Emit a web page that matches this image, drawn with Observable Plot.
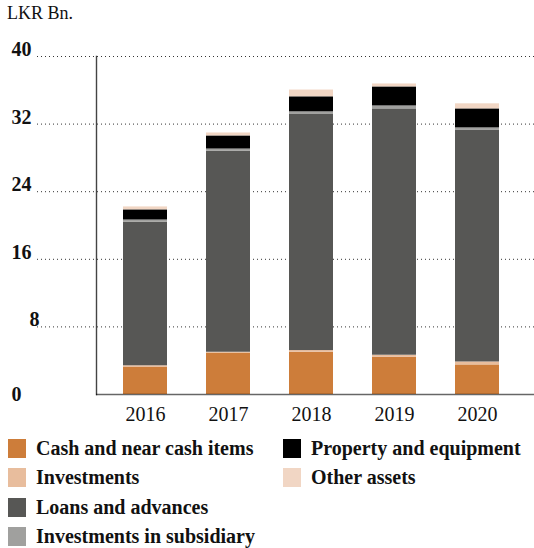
<!DOCTYPE html>
<html>
<head>
<meta charset="utf-8">
<script src="https://cdn.jsdelivr.net/npm/d3@7"></script>
<script src="https://cdn.jsdelivr.net/npm/@observablehq/plot@0.6"></script>
<style>
  html, body { margin: 0; padding: 0; background: #fff; }
  body { width: 534px; height: 548px; position: relative; overflow: hidden; font-family: "Liberation Serif", serif; color: #111; }
  #unit { position: absolute; left: 7px; top: 3px; font-size: 18px; }
  #chart { position: absolute; left: 0; top: 0; }
  #legend { position: absolute; left: 8px; top: 439px; display: grid; grid-auto-flow: column; grid-template-rows: repeat(4, 29.4px); grid-template-columns: 275px auto; }
  .item { display: flex; align-items: center; height: 19px; font-weight: bold; font-size: 20px; white-space: nowrap; }
  .sw { width: 18px; height: 19px; margin-right: 10px; flex: none; }
</style>
</head>
<body>
<div id="unit">LKR Bn.</div>
<div id="chart"></div>
<div id="legend"></div>
<script>
const years = ["2016", "2017", "2018", "2019", "2020"];
const seriesNames = ["Cash and near cash items", "Investments", "Loans and advances", "Investments in subsidiary", "Property and equipment", "Other assets"];
const colors = ["#CD7D3A", "#E8BD9D", "#575755", "#A0A09E", "#000000", "#F1D6C4"];
const cash = [3.2, 4.9, 5.0, 4.4, 3.5];
const investments = [0.2, 0.1, 0.2, 0.25, 0.35];
const loans = [17.0, 23.8, 28.0, 29.15, 27.45];
const subsidiary = [0.25, 0.25, 0.25, 0.35, 0.25];
const property = [1.2, 1.55, 1.78, 2.25, 2.25];
const other = [0.35, 0.35, 0.8, 0.35, 0.6];
const yTicks = [8, 16, 24, 32, 40];

const seriesValues = [cash, investments, loans, subsidiary, property, other];
const data = [];
seriesNames.forEach((s, i) => years.forEach((y, j) => data.push({year: y, series: s, value: seriesValues[i][j]})));

const font = "'Liberation Serif', serif";
const plot = Plot.plot({
  width: 534,
  height: 430,
  marginTop: 56,
  marginBottom: 36,
  marginLeft: 96,
  marginRight: 0,
  style: {fontFamily: font, color: "#111", background: "transparent", overflow: "visible"},
  x: {type: "band", domain: years, range: [121, 500], paddingInner: 0.4746, paddingOuter: 0},
  y: {domain: [0, 40]},
  color: {domain: seriesNames, range: colors},
  marks: [
    Plot.ruleY(yTicks, {stroke: "#333", strokeWidth: 1, strokeDasharray: "1,3", insetLeft: -59}),
    Plot.barY(data, {x: "year", y: "value", fill: "series", order: seriesNames}),
    Plot.frame({anchor: "left", stroke: "#444", strokeWidth: 1.4}),
    Plot.ruleY([0], {stroke: "#000", strokeOpacity: 0.6, strokeWidth: 1.3}),
    Plot.axisX({tickSize: 0, tickPadding: 12, fontSize: 20, label: null, fill: "#111"}),
    Plot.axisY(yTicks.filter(t => t >= 16), {tickSize: 0, tickPadding: 65, fontSize: 20, fontWeight: "bold", dy: -7, label: null, fill: "#111"}),
    Plot.axisY([8], {tickSize: 0, tickPadding: 57, fontSize: 20, fontWeight: "bold", dy: -7, label: null, fill: "#111"}),
    Plot.axisY([0], {tickSize: 0, tickPadding: 75, fontSize: 20, fontWeight: "bold", label: null, fill: "#111"})
  ]
});
document.getElementById("chart").appendChild(plot);

const legend = document.getElementById("legend");
seriesNames.forEach((s, i) => {
  const it = document.createElement("div");
  it.className = "item";
  const sw = document.createElement("span");
  sw.className = "sw";
  sw.style.background = colors[i];
  it.appendChild(sw);
  it.appendChild(document.createTextNode(s));
  legend.appendChild(it);
});
</script>
</body>
</html>
